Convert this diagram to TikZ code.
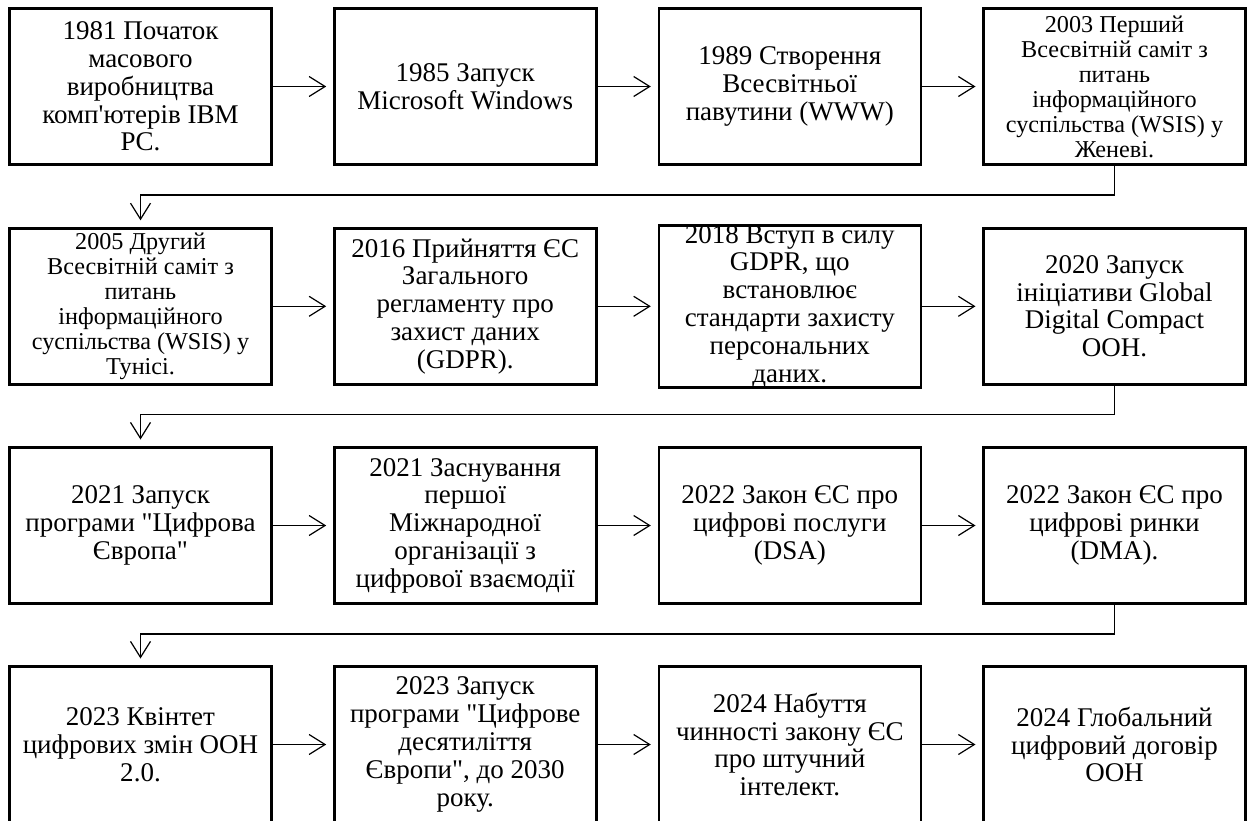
\documentclass[tikz,border=0pt]{standalone}
\usepackage{fontspec}
\newfontfamily\boxfont{Liberation Serif}
\usetikzlibrary{arrows.meta}
\begin{document}
\begin{tikzpicture}[x=1bp,y=-1bp,
  stage/.style={draw, line width=2.6bp, minimum width=262bp, minimum height=156bp,
    inner sep=0pt, outer sep=0pt, align=center,
    font=\boxfont\fontsize{27bp}{27.8bp}\selectfont},
  stagesmall/.style={stage, font=\boxfont\fontsize{24.2bp}{25bp}\selectfont},
  flow/.style={line width=1.2bp,
    -{Straight Barb[length=16bp,width=20bp,line width=1.2bp]}, shorten >=8bp},
]
\useasboundingbox (0,0) rectangle (1252,821);

% row 1
\node[stage] (b1) at (140.5,86.5) {1981 Початок\\масового\\виробництва\\комп'ютерів IBM\\PC.};
\node[stage] (b2) at (465.2,86.5) {1985 Запуск\\Microsoft Windows};
\node[stage] (b3) at (789.8,86.5) {1989 Створення\\Всесвітньої\\павутини (WWW)};
\node[stagesmall] (b4) at (1114.5,86.5) {2003 Перший\\Всесвітній саміт з\\питань\\інформаційного\\суспільства (WSIS) у\\Женеві.};

% row 2
\node[stagesmall] (b5) at (140.5,306.3) {2005 Другий\\Всесвітній саміт з\\питань\\інформаційного\\суспільства (WSIS) у\\Тунісі.};
\node[stage] (b6) at (465.2,306.3) {2016 Прийняття ЄС\\Загального\\регламенту про\\захист даних\\(GDPR).};
\node[stage] (b7) at (789.8,306.3) {2018 Вступ в силу\\GDPR, що\\встановлює\\стандарти захисту\\персональних\\даних.};
\node[stage] (b8) at (1114.5,306.3) {2020 Запуск\\ініціативи Global\\Digital Compact\\ООН.};

% row 3
\node[stage] (b9) at (140.5,525.5) {2021 Запуск\\програми "Цифрова\\Європа"};
\node[stage] (b10) at (465.2,525.5) {2021 Заснування\\першої\\Міжнародної\\організації з\\цифрової взаємодії};
\node[stage] (b11) at (789.8,525.5) {2022 Закон ЄС про\\цифрові послуги\\(DSA)};
\node[stage] (b12) at (1114.5,525.5) {2022 Закон ЄС про\\цифрові ринки\\(DMA).};

% row 4
\node[stage] (b13) at (140.5,744.5) {2023 Квінтет\\цифрових змін ООН\\2.0.};
\node[stage] (b14) at (465.2,744.5) {2023 Запуск\\програми "Цифрове\\десятиліття\\Європи", до 2030\\року.};
\node[stage] (b15) at (789.8,744.5) {2024 Набуття\\чинності закону ЄС\\про штучний\\інтелект.};
\node[stage] (b16) at (1114.5,744.5) {2024 Глобальний\\цифровий договір\\ООН};

% arrows along each row
\foreach \a/\b in {b1/b2,b2/b3,b3/b4,b5/b6,b6/b7,b7/b8,b9/b10,b10/b11,b11/b12,b13/b14,b14/b15,b15/b16}
  \draw[flow] (\a.east) -- (\b.west);

% bends from the end of one row to the start of the next
\draw[flow] (b4.south) -- ++(0,30.5) -| (b5.north);
\draw[flow] (b8.south) -- ++(0,30.5) -| (b9.north);
\draw[flow] (b12.south) -- ++(0,30.5) -| (b13.north);
\end{tikzpicture}
\end{document}
